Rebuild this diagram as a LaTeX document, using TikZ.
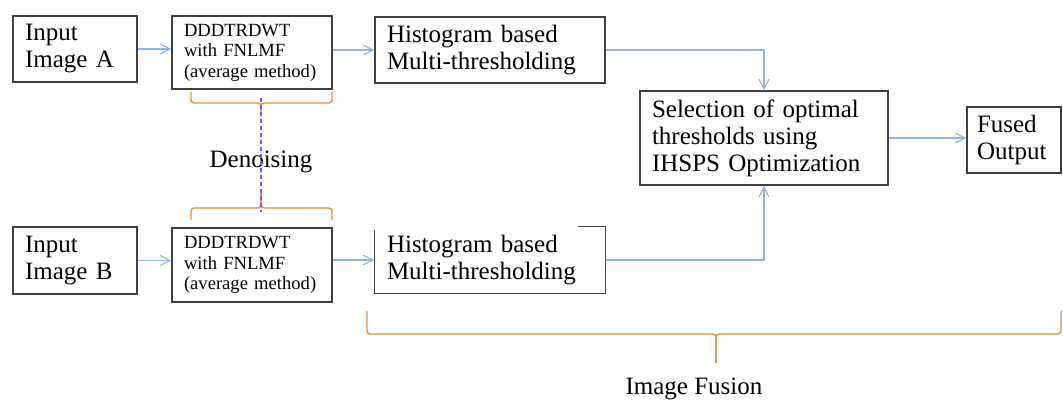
\documentclass[tikz,border=0pt]{standalone}
\usepackage{fontspec}
\setmainfont{Liberation Serif}
\usetikzlibrary{arrows.meta}
\definecolor{boxgray}{HTML}{404040}
\definecolor{arrblue}{HTML}{8DB4E2}
\definecolor{brorange}{HTML}{F0883A}
\definecolor{dpurple}{HTML}{8A4FD8}
\newcommand\bigf{\fontsize{25}{27}\selectfont}
\newcommand\smallf{\fontsize{18.6}{20.5}\selectfont}
% #1 x left, #2 x right, #3 x tip, #4 y end, #5 y horiz, #6 y tip
\newcommand\orbrace[6]{%
  \draw[brc] (#1,#4) -- (#1,#5) -- (#3,#5) -- (#3,#6);
  \draw[brc] (#2,#4) -- (#2,#5) -- (#3,#5) -- (#3,#6);
}
\begin{document}
\begin{tikzpicture}[x=1pt,y=-1pt,
  box/.style={draw=boxgray, line width=1.2pt, rectangle, inner xsep=12pt, inner ysep=0pt, align=left},
  bigbox/.style={box, font=\bigf},
  smallbox/.style={box, font=\smallf},
  arr/.style={draw=arrblue, line width=1.1pt, -{Straight Barb[length=10pt,width=10pt]}},
  brc/.style={draw=brorange, line width=1.4pt, rounded corners=3pt},
  dsh/.style={draw=dpurple, line width=1.1pt, dash pattern=on 4pt off 3pt},
  lbl/.style={font=\bigf, anchor=base, inner sep=0pt}
]
\useasboundingbox (0,0) rectangle (1063,399);

\node[bigbox, text width=100pt, minimum width=124pt, minimum height=66pt] (inA) at (75,49) {Input\\Image A};
\node[smallbox, text width=136pt, minimum width=160pt, minimum height=73pt] (dA) at (252,52.5) {DDDTRDWT\\with FNLMF\\(average method)};
\node[bigbox, text width=206pt, minimum width=230pt, minimum height=66pt] (hA) at (490,50) {Histogram based\\Multi-thresholding};
\node[bigbox, text width=224pt, minimum width=248pt, minimum height=94pt] (sel) at (764,138) {Selection of optimal\\thresholds using\\IHSPS Optimization};
\node[bigbox, inner xsep=10pt, text width=74pt, minimum width=94pt, minimum height=66pt] (fo) at (1014,140) {Fused\\Output};

\node[bigbox, text width=100pt, minimum width=124pt, minimum height=67pt] (inB) at (75,260.5) {Input\\Image B};
\node[smallbox, text width=136pt, minimum width=160pt, minimum height=74pt] (dB) at (252,265) {DDDTRDWT\\with FNLMF\\(average method)};
\node[bigbox, draw=none, text width=206pt, minimum width=230pt, minimum height=66pt] (hB) at (490,260) {Histogram based\\Multi-thresholding};
\draw[boxgray, line width=1.2pt] ([xshift=204pt]hB.north west) -- (hB.north east) -- (hB.south east) -- (hB.south west) -- ([yshift=-4pt]hB.north west);

% connectors
\draw[arr] (inA.east) -- (inA.east -| dA.west);
\draw[arr] (dA.east |- hA.west) -- (hA.west);
\draw[arr] (hA.east) -| (sel.north);
\draw[arr] (hB.east) -| (sel.south);
\draw[arr] (sel.east) -- (sel.east -| fo.west);
\draw[arr] (inB.east) -- (inB.east -| dB.west);
\draw[arr] (dB.east |- hB.west) -- (hB.west);

% braces
\orbrace{191}{332}{261}{92}{103}{113}
\orbrace{191}{332}{261}{220}{208}{192}
\orbrace{367}{1061}{716}{311}{334}{363}

% labels
\node[lbl] (den) at (261,167) {Denoising};
\node[lbl] (fus) at (694,394) {Image Fusion};

\coordinate (dtop) at (261,98);
\coordinate (dbot) at (261,212);
\draw[dsh] (dtop) -- (dbot);
\end{tikzpicture}
\end{document}
